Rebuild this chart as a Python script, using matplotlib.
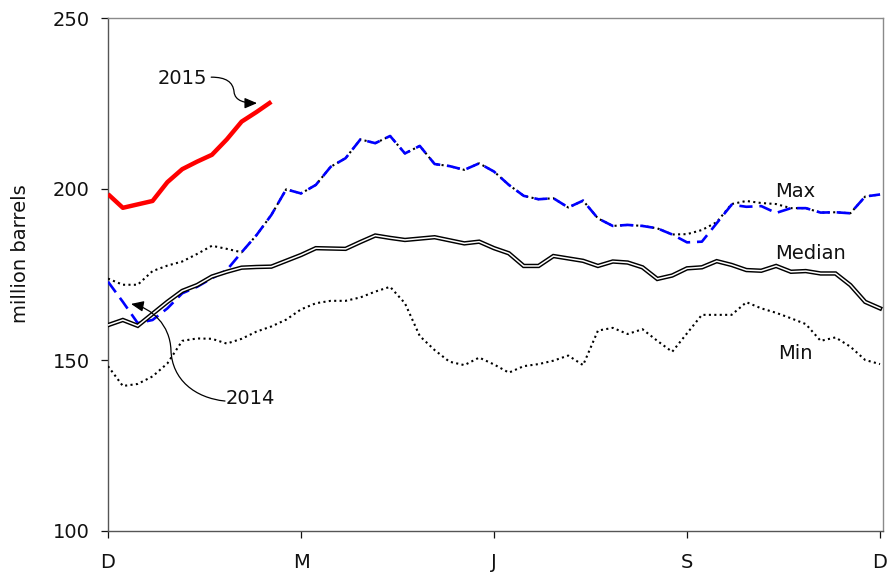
import numpy as np
import matplotlib
matplotlib.use("Agg")
import matplotlib.pyplot as plt
from matplotlib.path import Path
from matplotlib.patches import FancyArrowPatch

plt.rcParams['font.family'] = ['DejaVu Sans']

# ---------------- data (weekly, Dec -> Dec) ----------------
x_tick_labels = ["D", "M", "J", "S", "D"]
x_tick_weeks = [0, 13, 26, 39, 52]
y_ticks = [100, 150, 200, 250]

median = [160.2, 161.7, 160.0, 163.5, 167.0, 170.2, 171.9, 174.4, 175.8, 177.0,
          177.2, 177.3, 179.0, 180.7, 182.7, 182.6, 182.5, 184.5, 186.4, 185.7,
          185.1, 185.5, 185.9, 185.0, 184.1, 184.6, 182.7, 181.2, 177.5, 177.5,
          180.4, 179.7, 179.0, 177.5, 178.8, 178.5, 177.1, 173.7, 174.7, 176.8,
          177.1, 178.9, 177.8, 176.3, 176.1, 177.5, 175.8, 176.0, 175.3, 175.3,
          171.9, 167.0, 165.1]

minimum = [148.2, 142.4, 143.0, 145.2, 149.0, 155.6, 156.3, 156.2, 154.8, 156.2,
           158.3, 159.8, 161.8, 164.8, 166.6, 167.3, 167.3, 168.3, 170.0, 171.4,
           166.6, 157.0, 152.9, 149.5, 148.5, 150.7, 148.7, 146.3, 148.2, 148.8,
           149.8, 151.3, 148.5, 158.6, 159.4, 157.6, 159.0, 155.6, 152.4, 157.8,
           163.2, 163.2, 163.2, 166.9, 165.1, 163.8, 162.2, 160.5, 155.6, 156.6,
           153.9, 150.0, 148.8]

y2014 = [172.9, 167.0, 160.8, 161.7, 165.1, 169.5, 171.4, 173.9, 176.3, 181.5,
         186.5, 192.4, 199.9, 198.7, 201.2, 206.5, 209.0, 214.5, 213.4, 215.5,
         210.4, 212.6, 207.3, 206.7, 205.6, 207.5, 205.1, 201.2, 198.0, 197.0,
         197.3, 194.6, 196.6, 191.4, 189.2, 189.5, 189.2, 188.5, 186.7, 184.4,
         184.6, 190.0, 195.4, 194.8, 195.0, 193.0, 194.4, 194.4, 193.1, 193.2,
         192.9, 197.8, 198.4]

maximum = [173.8, 172.0, 172.0, 176.0, 177.6, 178.8, 181.0, 183.4, 182.5, 181.5,
           186.5, 192.4, 199.9, 198.7, 201.2, 206.5, 209.0, 214.5, 213.4, 215.5,
           210.4, 212.6, 207.3, 206.7, 205.6, 207.5, 205.1, 201.2, 198.0, 197.0,
           197.3, 194.6, 196.6, 191.4, 189.2, 189.5, 189.2, 188.5, 186.7, 186.8,
           188.0, 190.3, 195.6, 196.5, 195.9, 195.6, 194.4, 194.4, 193.1, 193.2,
           192.9, 197.8, 198.4]

y2015 = [198.5, 194.5, 195.5, 196.5, 202.0, 205.8, 208.0, 210.0, 214.5, 219.7,
         222.5, 225.5]

weeks = np.arange(len(median))
weeks2015 = np.arange(len(y2015))

# ---------------- figure ----------------
W, H = 889, 573
fig = plt.figure(figsize=(W / 100, H / 100), dpi=100)
ax = fig.add_axes([108 / W, 1 - 531 / H, (883 - 108) / W, (531 - 18) / H])

# max (dotted) under 2014 (dashed blue)
ax.plot(weeks, maximum, color='black', lw=1.5, linestyle=(0, (1, 1.6)), zorder=3)
ax.plot(weeks, y2014, color='#0000ff', lw=1.9, linestyle=(0, (5.0, 2.6)), zorder=4)
# median: double line
ax.plot(weeks, median, color='black', lw=3.2, zorder=5, solid_joinstyle='miter')
ax.plot(weeks, median, color='white', lw=1.1, zorder=6, solid_joinstyle='miter')
# min (dotted)
ax.plot(weeks, minimum, color='black', lw=1.5, linestyle=(0, (1, 1.6)), zorder=3)
# 2015
ax.plot(weeks2015, y2015, color='#ff0000', lw=3.2, zorder=7,
        solid_capstyle='butt', solid_joinstyle='round')

ax.set_xlim(0, 52.2)
ax.set_ylim(100, 250)
ax.set_xticks(x_tick_weeks)
ax.set_xticklabels(x_tick_labels)
ax.set_yticks(y_ticks)

ax.tick_params(axis='x', direction='out', length=5, width=0.9, pad=11,
               labelsize=14, colors='#111111')
ax.tick_params(axis='y', direction='out', length=5, width=0.9, pad=8,
               labelsize=14, colors='#111111')

for s in ['left', 'bottom']:
    ax.spines[s].set_color('#555555')
    ax.spines[s].set_linewidth(1.0)
for s in ['top', 'right']:
    ax.spines[s].set_color('#8a8a8a')
    ax.spines[s].set_linewidth(1.0)

ax.set_ylabel('million barrels', fontsize=14, color='#111111')
ax.yaxis.set_label_coords(-0.1, 0.54)

# ---------------- labels ----------------
ax.text(46.3, 199.4, 'Max', fontsize=14, ha='center', va='center', color='#111111')
ax.text(47.3, 181.1, 'Median', fontsize=14, ha='center', va='center', color='#111111')
ax.text(46.3, 151.9, 'Min', fontsize=14, ha='center', va='center', color='#111111')
ax.text(4.98, 232.2, '2015', fontsize=14, ha='center', va='center', color='#111111')
ax.text(9.56, 138.7, '2014', fontsize=14, ha='center', va='center', color='#111111')

codes = [Path.MOVETO, Path.CURVE4, Path.CURVE4, Path.CURVE4,
         Path.CURVE4, Path.CURVE4, Path.CURVE4]
arrow2014 = Path([(7.88, 138.0), (5.86, 138.9), (4.31, 144.2), (4.24, 152.9),
                  (4.18, 160.2), (2.96, 165.2), (1.55, 166.4)], codes)
arrow2015 = Path([(6.95, 232.7), (7.95, 232.7), (8.42, 231.3), (8.49, 228.4),
                  (8.55, 225.7), (9.23, 225.1), (10.04, 225.1)], codes)
for p in (arrow2014, arrow2015):
    fa = FancyArrowPatch(path=p, arrowstyle='-|>,head_length=0.75,head_width=0.32',
                         mutation_scale=10, lw=0.9, color='black',
                         transform=ax.transData, zorder=8)
    ax.add_patch(fa)

fig.savefig('out.png', dpi=100)
